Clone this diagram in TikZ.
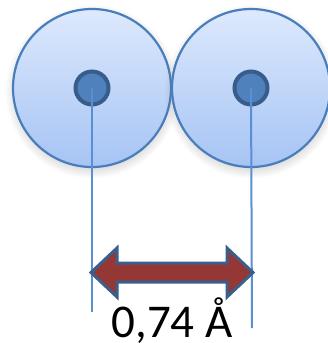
\documentclass[tikz,border=0pt]{standalone}
\usepackage{fontspec}
\setmainfont{Carlito}
\usetikzlibrary{shadows}
\definecolor{atomtop}{HTML}{DDE9FD}
\definecolor{atombot}{HTML}{A6C4F4}
\definecolor{atomedge}{HTML}{4A7EBB}
\definecolor{nucfill}{HTML}{4F81BD}
\definecolor{nucedge}{HTML}{385D8A}
\definecolor{guide}{HTML}{5B8FD4}
\definecolor{arrowfill}{HTML}{953735}
\definecolor{arrowedge}{HTML}{3B5F8C}
\tikzset{
  atom/.style={circle, minimum size=158pt, inner sep=0pt, draw=atomedge, line width=2.2pt,
    top color=atomtop, bottom color=atombot,
    circular drop shadow={shadow xshift=0pt, shadow yshift=-3pt, opacity=0.25, fill=black!60}},
  nucleus/.style={circle, minimum size=33pt, inner sep=0pt, draw=nucedge, line width=4pt, fill=nucfill},
  guideline/.style={draw=guide, line width=2pt},
  bigarrow/.style={fill=arrowfill, draw=arrowedge, line width=3pt, line join=miter},
  label/.style={font=\fontsize{47}{50}\selectfont, inner sep=0pt, anchor=base}
}
\begin{document}
\begin{tikzpicture}[x=1pt,y=-1pt]
\useasboundingbox (0,0) rectangle (328,343);
\node[atom] (atomA) at (92,88) {};
\node[atom] (atomB) at (251,88) {};
\node[nucleus] (nA) at (92,88) {};
\node[nucleus] (nB) at (251,88) {};
\coordinate (endA) at (92,312);
\coordinate (endB) at (252,328);
\draw[guideline] (nA.center) -- (endA);
\draw[guideline] (nB.center) -- (endB);
\coordinate (tipL) at (91,272.5);
\coordinate (tipR) at (253,272.5);
\draw[bigarrow] (tipL) -- (117,248) -- (117,263) -- (227,263) -- (227,248) -- (tipR)
  -- (227,297) -- (227,282) -- (117,282) -- (117,297) -- cycle;
\node[label] (dist) at (172,337) {0,74 Å};
\end{tikzpicture}
\end{document}
